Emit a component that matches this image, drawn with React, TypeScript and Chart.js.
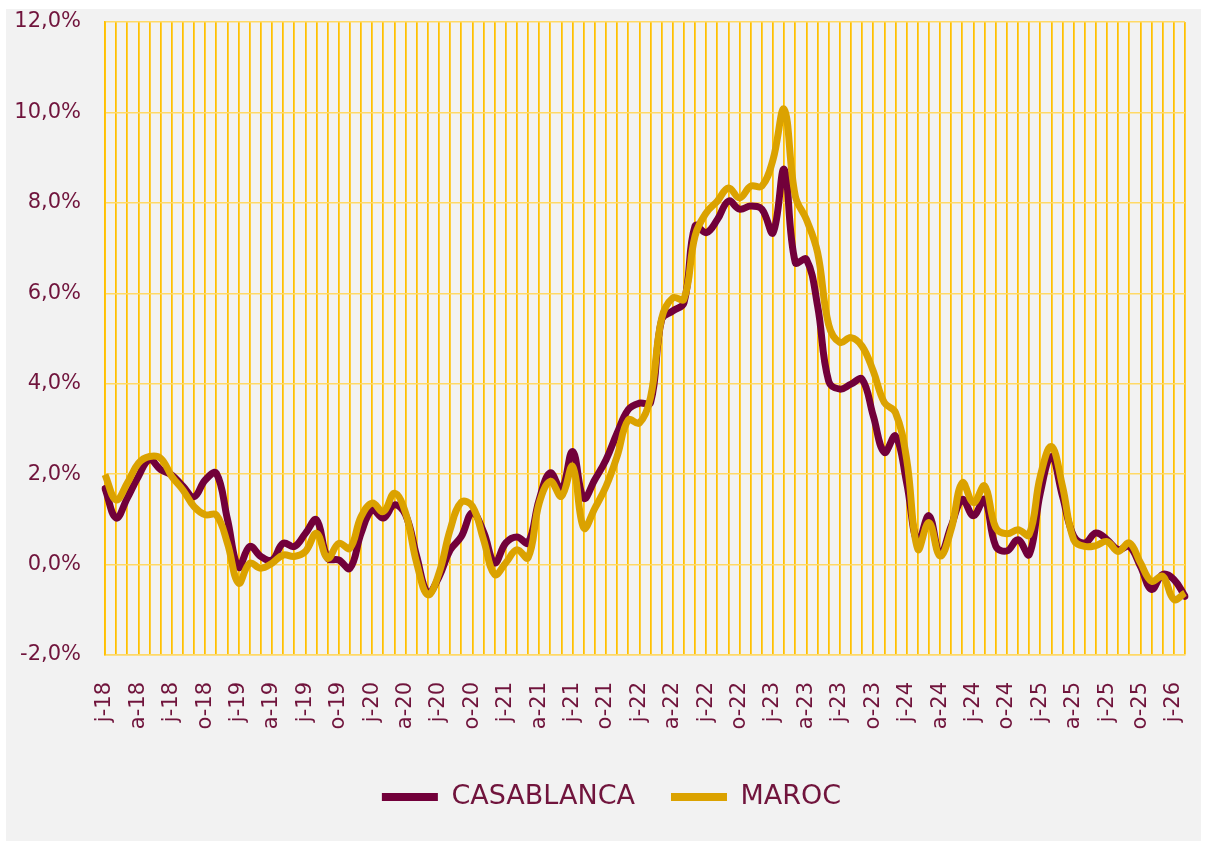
import React, { useEffect, useRef } from 'react';
import { Chart, registerables } from 'chart.js';

Chart.register(...registerables);

// Categories: monthly, Jan 2018 .. Feb 2026 (98 points)
const monthInitials = ['j', 'f', 'm', 'a', 'm', 'j', 'j', 'a', 's', 'o', 'n', 'd'];
const years = ['18', '19', '20', '21', '22', '23', '24', '25', '26'];
const categories: string[] = years
  .flatMap((y) => monthInitials.map((m) => `${m}-${y}`))
  .slice(0, 98);

// Year-on-year inflation, %
const casablanca = [
  1.68, 1.03, 1.47, 1.95, 2.32, 2.1, 1.98, 1.73, 1.5, 1.87, 2.02, 1.0,
  -0.06, 0.4, 0.18, 0.1, 0.47, 0.4, 0.69, 0.99, 0.14, 0.1, -0.08, 0.69,
  1.21, 1.03, 1.32, 1.1, 0.18, -0.63, -0.27, 0.32, 0.62, 1.15, 0.72, 0.04,
  0.48, 0.61, 0.48, 1.44, 2.03, 1.66, 2.5, 1.47, 1.88, 2.32, 2.91, 3.43,
  3.57, 3.58, 5.42, 5.61, 5.79, 7.49, 7.34, 7.63, 8.04, 7.86, 7.93, 7.86,
  7.34, 8.74, 6.68, 6.75, 5.72, 4.05, 3.88, 3.99, 4.1, 3.29, 2.48, 2.84,
  1.81, 0.49, 1.08, 0.23, 0.85, 1.44, 1.08, 1.44, 0.41, 0.3, 0.55, 0.22,
  1.58, 2.39, 1.51, 0.63, 0.48, 0.7, 0.55, 0.33, 0.4, -0.04, -0.55, -0.22,
  -0.33, -0.7,
];

const maroc = [
  1.99, 1.43, 1.8, 2.24, 2.39, 2.35, 1.95, 1.65, 1.28, 1.1, 1.1, 0.47,
  -0.41, 0.03, -0.08, 0.03, 0.21, 0.18, 0.29, 0.69, 0.14, 0.47, 0.36, 1.06,
  1.36, 1.17, 1.58, 1.14, 0.03, -0.67, -0.19, 0.77, 1.38, 1.29, 0.55, -0.22,
  0.04, 0.33, 0.15, 1.36, 1.84, 1.51, 2.17, 0.81, 1.25, 1.73, 2.4, 3.2,
  3.13, 3.7, 5.45, 5.9, 5.87, 7.27, 7.78, 8.04, 8.33, 8.11, 8.37, 8.37,
  8.96, 10.07, 8.15, 7.63, 6.9, 5.3, 4.91, 5.02, 4.83, 4.28, 3.58, 3.36,
  2.33, 0.34, 0.93, 0.19, 0.78, 1.81, 1.37, 1.74, 0.82, 0.68, 0.77, 0.66,
  1.95, 2.61, 1.73, 0.55, 0.4, 0.42, 0.51, 0.29, 0.48, 0.04, -0.37, -0.26,
  -0.77, -0.63,
];

const seriesNames = ['CASABLANCA', 'MAROC'];

const TEXT = '#70143C';
const MAROON = '#72003A';
const GOLD = '#DBA200';
const FONT = "'DejaVu Sans', sans-serif";

// shifts the legend box a little to the right so it sits like the original
const legendShift = {
  id: 'legendShift',
  afterLayout(chart: any) {
    if (chart.legend) chart.legend.left = 32;
  },
};

export default function App() {
  const ref = useRef<HTMLCanvasElement>(null);

  useEffect(() => {
    const canvas = ref.current;
    if (!canvas) return;
    const chart = new Chart(canvas, {
      type: 'line',
      data: {
        labels: categories,
        datasets: [
          {
            label: seriesNames[0],
            data: casablanca,
            borderColor: MAROON,
            backgroundColor: MAROON,
            borderWidth: 7,
            borderCapStyle: 'round',
            borderJoinStyle: 'round',
            pointRadius: 0,
            tension: 0.4,
            order: 2,
          },
          {
            label: seriesNames[1],
            data: maroc,
            borderColor: GOLD,
            backgroundColor: GOLD,
            borderWidth: 7,
            borderCapStyle: 'butt',
            borderJoinStyle: 'round',
            pointRadius: 0,
            tension: 0.4,
            order: 1,
          },
        ],
      },
      options: {
        responsive: false,
        animation: false,
        devicePixelRatio: 1,
        layout: { padding: { left: 0, right: 16, top: 13, bottom: 20.5 } },
        plugins: {
          tooltip: { enabled: false },
          legend: {
            position: 'bottom',
            align: 'center',
            labels: {
              usePointStyle: true,
              pointStyle: 'line',
              pointStyleWidth: 56,
              padding: 36,
              color: TEXT,
              font: { family: FONT, size: 27 },
              sort: (a: any, b: any) => a.datasetIndex - b.datasetIndex,
              generateLabels: (c: any) =>
                Chart.defaults.plugins.legend.labels
                  .generateLabels(c)
                  .map((it: any) => ({ ...it, lineWidth: 8, pointStyle: 'line' })),
            },
          },
        },
        scales: {
          x: {
            type: 'category',
            offset: false,
            afterFit: (s: any) => {
              s.height = 92.5;
              s.paddingLeft = 0;
              s.paddingRight = 0;
            },
            grid: {
              color: '#FFC000',
              lineWidth: 1.75,
              drawTicks: false,
              offset: false,
            },
            border: { color: '#FFD966', width: 1.5 },
            ticks: {
              autoSkip: false,
              maxRotation: 90,
              minRotation: 90,
              padding: 27,
              color: TEXT,
              font: { family: FONT, size: 21 },
              callback: (_v: any, i: number) => (i % 3 === 0 ? categories[i] : ''),
            },
          },
          y: {
            min: -2,
            max: 12,
            afterFit: (s: any) => {
              s.width = 99;
              s.paddingTop = 0;
              s.paddingBottom = 0;
            },
            grid: { color: '#FFD966', lineWidth: 1.5, drawTicks: false },
            border: { color: '#FFC000', width: 1.75 },
            ticks: {
              stepSize: 2,
              padding: 24,
              color: TEXT,
              font: { family: FONT, size: 21 },
              callback: (v: any) => Number(v).toFixed(1).replace('.', ',') + '%',
            },
          },
        },
      },
      plugins: [legendShift],
    });
    return () => chart.destroy();
  }, []);

  return (
    <div
      style={{
        position: 'absolute',
        left: 6,
        top: 9,
        width: 1195,
        height: 832,
        background: '#F2F2F2',
      }}
    >
      <canvas ref={ref} width={1195} height={832} style={{ display: 'block' }} />
    </div>
  );
}
